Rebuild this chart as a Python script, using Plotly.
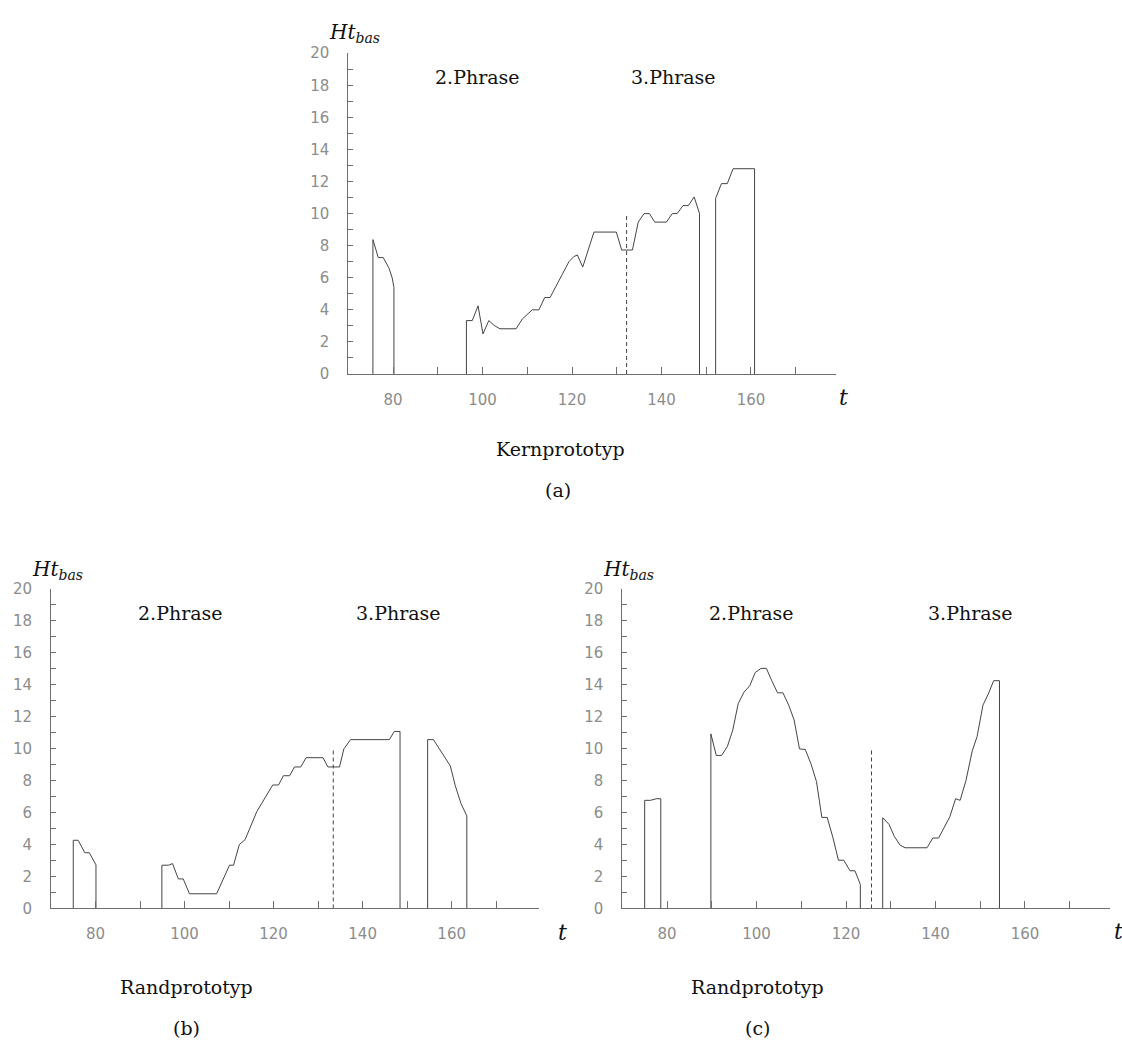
import plotly.graph_objects as go

W, H = 1122, 1061

# ---------------- data ----------------
# Panel (a) Kernprototyp
a_seg1_t = [75.5, 76.7, 77.8, 79.1, 79.8, 80.2]
a_seg1_v = [8.38, 7.26, 7.26, 6.6, 6.0, 5.4]
a_seg2_t = [96.4, 97.7, 99.0, 100.1, 101.4, 102.6, 103.9, 107.5, 108.9, 111.1, 112.6, 113.9,
            115.1, 117.8, 119.3, 120.4, 121.2, 122.4, 123.8, 124.9, 129.9, 131.1, 133.5, 134.8,
            136.1, 137.3, 138.5, 141.1, 142.4, 143.5, 144.8, 146.0, 147.3, 148.5]
a_seg2_v = [3.33, 3.33, 4.25, 2.5, 3.33, 3.03, 2.82, 2.82, 3.43, 4.0, 4.0, 4.77,
            4.77, 6.2, 7.0, 7.32, 7.42, 6.67, 7.83, 8.85, 8.85, 7.73, 7.73, 9.47,
            10.0, 10.0, 9.47, 9.47, 10.0, 10.0, 10.5, 10.5, 11.04, 10.0]
a_seg3_t = [152.1, 153.4, 154.7, 156.0, 160.8]
a_seg3_v = [10.96, 11.87, 11.87, 12.8, 12.8]
a_boundary_t, a_boundary_v = 132.2, 10.0

# Panel (b) Randprototyp
b_seg1_t = [75.0, 76.1, 77.6, 78.6, 79.5, 80.1]
b_seg1_v = [4.27, 4.27, 3.49, 3.49, 3.08, 2.73]
b_seg2_t = [94.9, 96.4, 97.3, 98.6, 99.7, 101.1, 107.2, 110.1, 111.0, 112.3, 113.6, 116.2,
            119.8, 121.1, 122.2, 123.6, 124.7, 126.1, 127.3, 131.1, 132.2, 134.8, 135.8,
            137.3, 146.0, 147.1, 148.4]
b_seg2_v = [2.71, 2.71, 2.81, 1.85, 1.85, 0.92, 0.92, 2.71, 2.71, 4.0, 4.31, 6.05,
            7.73, 7.73, 8.31, 8.31, 8.86, 8.86, 9.44, 9.44, 8.86, 8.86, 10.0,
            10.57, 10.57, 11.08, 11.08]
b_seg3_t = [154.6, 155.9, 157.8, 159.7, 160.8, 162.1, 163.4]
b_seg3_v = [10.57, 10.57, 9.74, 8.92, 7.69, 6.56, 5.8]
b_boundary_t, b_boundary_v = 133.4, 10.0

# Panel (c) Randprototyp
c_seg1_t = [75.0, 76.3, 77.6, 78.6]
c_seg1_v = [6.77, 6.77, 6.87, 6.87]
c_seg2_t = [89.8, 91.0, 92.2, 93.5, 94.7, 95.9, 97.2, 98.5, 99.7, 101.0, 102.2, 103.4, 104.7,
            105.9, 107.2, 108.4, 109.6, 110.9, 112.2, 113.4, 114.6, 115.8, 117.1, 118.3,
            119.5, 120.9, 122.0, 123.2]
c_seg2_v = [10.93, 9.58, 9.58, 10.15, 11.18, 12.82, 13.54, 13.95, 14.77, 15.03, 15.03, 14.26, 13.5,
            13.5, 12.72, 11.8, 9.99, 9.95, 9.03, 7.94, 5.7, 5.7, 4.41, 3.02,
            3.02, 2.36, 2.36, 1.5]
c_seg3_t = [128.2, 129.6, 130.8, 132.1, 133.2, 138.1, 139.4, 140.7, 142.0, 143.2, 144.5, 145.5,
            146.8, 148.2, 149.3, 150.6, 151.8, 153.0, 154.3]
c_seg3_v = [5.68, 5.27, 4.51, 3.96, 3.8, 3.8, 4.41, 4.41, 5.13, 5.74, 6.87, 6.77,
            8.0, 9.85, 10.77, 12.72, 13.43, 14.26, 14.26]
c_boundary_t, c_boundary_v = 125.7, 10.0

x_tick_vals = [80, 100, 120, 140, 160]
x_minor_vals = [90, 110, 130, 150, 170]
x_cross_ticks = [100, 150]
y_tick_vals = [0, 2, 4, 6, 8, 10, 12, 14, 16, 18, 20]
y_minor_vals = [1, 3, 5, 7, 9, 11, 13, 15, 17, 19]

phrase_labels = ["2.Phrase", "3.Phrase"]
captions = ["Kernprototyp", "Randprototyp", "Randprototyp"]
panel_tags = ["(a)", "(b)", "(c)"]

# ---------------- layout geometry (pixels) ----------------
panels = [
    dict(ax="", x0=348.3, x1=836.0, ytop=45.0, ybot=371.3, xr=[70, 179],
         segs=[(a_seg1_t, a_seg1_v), (a_seg2_t, a_seg2_v), (a_seg3_t, a_seg3_v)],
         bound=(a_boundary_t, a_boundary_v), ph=[98.8, 142.6],
         cap=(560, 448), tag=(558, 489), tlab=(843, 395), htx=327, hty=24),
    dict(ax="2", x0=51.0, x1=538.5, ytop=590.0, ybot=915.0, xr=[70, 179.5],
         segs=[(b_seg1_t, b_seg1_v), (b_seg2_t, b_seg2_v), (b_seg3_t, b_seg3_v)],
         bound=(b_boundary_t, b_boundary_v), ph=[99.0, 148.0],
         cap=(186, 995), tag=(186, 1037), tlab=(562, 939), htx=30, hty=571),
    dict(ax="3", x0=622.3, x1=1110.0, ytop=590.0, ybot=915.0, xr=[70, 179],
         segs=[(c_seg1_t, c_seg1_v), (c_seg2_t, c_seg2_v), (c_seg3_t, c_seg3_v)],
         bound=(c_boundary_t, c_boundary_v), ph=[98.8, 147.8],
         cap=(757, 995), tag=(757, 1037), tlab=(1118, 938), htx=601, hty=571),
]

LINE = "#444444"
AXC = "#6e6e6e"
TICKFONT = dict(family="DejaVu Sans", size=15, color="#8c8c8c")
SERIF = "DejaVu Serif"

fig = go.Figure()
layout = dict(width=W, height=H, margin=dict(l=0, r=0, t=0, b=0),
              paper_bgcolor="white", plot_bgcolor="white", showlegend=False)
shapes = []
annotations = []

for i, p in enumerate(panels):
    xa = "x" + p["ax"]
    ya = "y" + p["ax"]
    for (ts, vs) in p["segs"]:
        fig.add_trace(go.Scatter(x=[ts[0]] + ts + [ts[-1]], y=[0] + vs + [0],
                                 mode="lines", line=dict(color=LINE, width=1),
                                 xaxis=xa, yaxis=ya, hoverinfo="skip"))
    bt, bv = p["bound"]
    fig.add_trace(go.Scatter(x=[bt, bt], y=[0, bv], mode="lines",
                             line=dict(color=LINE, width=1, dash="4px,3px"),
                             xaxis=xa, yaxis=ya, hoverinfo="skip"))

    xdom = [p["x0"] / W, p["x1"] / W]
    ydom = [1 - p["ybot"] / H, 1 - p["ytop"] / H]
    layout["xaxis" + p["ax"]] = dict(
        domain=xdom, range=p["xr"], anchor=ya, showline=True, linecolor=AXC, linewidth=1,
        showgrid=False, zeroline=False, ticks="inside", ticklen=7, tickcolor=AXC, tickwidth=1,
        tickmode="array", tickvals=x_tick_vals, ticktext=[str(v) for v in x_tick_vals],
        tickfont=TICKFONT, ticklabelstandoff=12,
        minor=dict(tickmode="array", tickvals=x_minor_vals, ticks="inside", ticklen=7,
                   tickcolor=AXC, tickwidth=1, showgrid=False))
    layout["yaxis" + p["ax"]] = dict(
        domain=ydom, range=[0, 20], anchor=xa, showline=True, linecolor=AXC, linewidth=1,
        showgrid=False, zeroline=False, ticks="inside", ticklen=5, tickcolor=AXC, tickwidth=1,
        tickmode="array", tickvals=y_tick_vals, ticktext=[str(v) for v in y_tick_vals],
        tickfont=TICKFONT, ticklabelstandoff=15,
        minor=dict(tickmode="array", tickvals=y_minor_vals, ticks="inside", ticklen=5,
                   tickcolor=AXC, tickwidth=1, showgrid=False))

    # ticks crossing below the x axis
    for xv in x_cross_ticks:
        shapes.append(dict(type="line", xref=xa, yref=ya, x0=xv, x1=xv,
                           ysizemode="pixel", yanchor=0, y0=-4, y1=0,
                           line=dict(color=AXC, width=1)))
    # left part of the major y ticks
    for yv in y_tick_vals:
        shapes.append(dict(type="line", xref=xa, yref=ya, y0=yv, y1=yv,
                           xsizemode="pixel", xanchor=p["xr"][0], x0=-4, x1=0,
                           line=dict(color=AXC, width=1)))

    for lab, tx in zip(phrase_labels, p["ph"]):
        annotations.append(dict(xref=xa, yref=ya, x=tx, y=18.5, text=lab, showarrow=False,
                                xanchor="center", yanchor="middle",
                                font=dict(family=SERIF, size=19, color="#111111")))
    annotations.append(dict(xref="paper", yref="paper", x=p["htx"] / W, y=1 - p["hty"] / H,
                            text="<i>Ht</i><sub><i>bas</i></sub>", showarrow=False,
                            xanchor="left", yanchor="middle",
                            font=dict(family=SERIF, size=20, color="#111111")))
    annotations.append(dict(xref="paper", yref="paper", x=p["tlab"][0] / W, y=1 - p["tlab"][1] / H,
                            text="<i>t</i>", showarrow=False, xanchor="center", yanchor="middle",
                            font=dict(family=SERIF, size=22, color="#111111")))
    annotations.append(dict(xref="paper", yref="paper", x=p["cap"][0] / W, y=1 - p["cap"][1] / H,
                            text=captions[i], showarrow=False, xanchor="center", yanchor="middle",
                            font=dict(family=SERIF, size=19, color="#111111")))
    annotations.append(dict(xref="paper", yref="paper", x=p["tag"][0] / W, y=1 - p["tag"][1] / H,
                            text=panel_tags[i], showarrow=False, xanchor="center", yanchor="middle",
                            font=dict(family=SERIF, size=19, color="#111111")))

layout["shapes"] = shapes
layout["annotations"] = annotations
fig.update_layout(**layout)
fig.write_html("out.html")
